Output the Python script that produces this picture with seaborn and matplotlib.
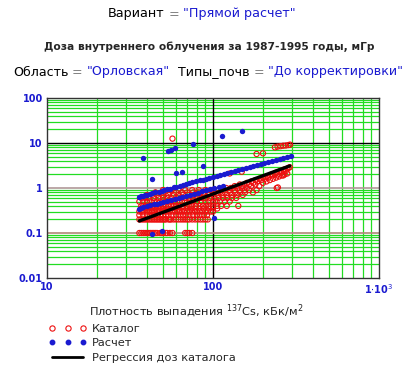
import numpy as np
import pandas as pd
import seaborn as sns
import matplotlib.pyplot as plt
from matplotlib.lines import Line2D
from matplotlib.ticker import LogLocator, NullFormatter, FixedLocator

# ---- data ----
# catalogue doses (rounded values form horizontal rows at low doses)
row_01 = [36, 37, 38, 39, 40, 41, 42, 43, 44, 45, 46, 48, 49, 50, 52, 53, 55, 57, 68, 70, 72, 75]
row_02 = [36, 37, 38, 39, 40, 41, 42, 43, 44, 45, 46, 47, 48, 49, 50, 51, 52, 54, 55, 56, 58,
          60, 62, 64, 66, 68, 70, 72, 75, 78, 81, 84, 87, 90, 93]
row_025 = [36, 38, 40, 42, 44, 46, 48, 50, 52, 54, 57, 60, 63, 66, 69, 72, 76, 80, 84, 88, 92]
row_03 = [36, 37, 38, 40, 41, 42, 43, 44, 46, 47, 48, 50, 51, 53, 55, 57, 59, 61, 63, 65, 67,
          70, 72, 75, 78, 80, 83, 86, 90, 93, 97, 100]
row_035 = [37, 39, 41, 43, 45, 47, 50, 53, 56, 59, 62, 66, 70, 74, 78, 83, 88, 94, 100, 106]
row_04 = [37, 38, 40, 42, 44, 46, 48, 50, 52, 54, 56, 58, 60, 63, 66, 69, 72, 75, 79, 83, 87,
          91, 95, 100, 106, 112, 121, 142]
row_05 = [36, 38, 40, 42, 44, 46, 48, 50, 53, 56, 59, 62, 65, 68, 72, 76, 80, 85, 90, 95, 100,
          105, 110, 118, 126]
row_06 = [37, 39, 41, 44, 47, 50, 53, 56, 60, 64, 68, 72, 76, 80, 85, 90, 96, 102, 108, 115,
          122, 130, 138]
row_07 = [40, 43, 46, 50, 54, 58, 62, 66, 71, 76, 82, 88, 94, 100, 107, 114, 121, 130, 140, 151]
row_08 = [45, 50, 55, 60, 65, 70, 76, 82, 88, 95, 102, 110, 118, 127, 136, 146, 156, 174]
row_09 = [50, 56, 62, 68, 75, 82, 90, 98, 106, 115, 125, 135, 145, 155, 165, 183]
cat_hi_x = [120, 128, 135, 140, 145, 150, 155, 160, 165, 170, 175, 180, 185, 190, 195, 200, 205,
            210, 215, 220, 225, 230, 235, 240, 245, 250, 255, 260, 265, 270, 275, 280, 285, 290,
            150, 160, 170, 180, 190, 200, 210, 220, 230, 240, 250, 260, 270, 280, 242, 246,
            126, 149, 265, 183, 200, 236, 245, 255, 265, 275, 285, 291, 57]
cat_hi_y = [1.0, 1.0, 1.1, 1.0, 1.2, 1.1, 1.2, 1.3, 1.2, 1.4, 1.3, 1.5, 1.4, 1.6, 1.5, 1.7, 1.6,
            1.8, 1.7, 1.9, 2.0, 1.9, 2.1, 2.2, 2.0, 2.3, 2.4, 2.2, 2.5, 2.6, 2.4, 2.7, 2.8, 2.9,
            1.0, 1.0, 1.1, 1.2, 1.1, 1.3, 1.4, 1.5, 1.6, 1.7, 1.8, 1.9, 2.0, 2.1, 1.0, 1.03,
            2.1, 2.3, 1.9, 5.7, 5.9, 8.0, 8.3, 8.5, 8.7, 8.8, 9.0, 9.2, 12.5]

# calculated doses: two dense bands plus a few outliers
calc_up_x = [36, 37, 38, 39, 40, 42, 43, 45, 47, 49, 51, 53, 55, 58, 60, 63, 66, 69, 72, 75, 79,
             83, 87, 91, 95, 100, 105, 110, 116, 122, 128, 135, 142, 150, 158, 166, 175, 184,
             194, 204, 215, 227, 239, 252, 265, 280, 294]
calc_up_y = [0.64, 0.66, 0.67, 0.69, 0.71, 0.74, 0.76, 0.80, 0.83, 0.87, 0.90, 0.94, 0.97, 1.03,
             1.06, 1.12, 1.17, 1.22, 1.27, 1.33, 1.40, 1.47, 1.54, 1.61, 1.68, 1.77, 1.86, 1.95,
             2.05, 2.16, 2.27, 2.39, 2.51, 2.66, 2.80, 2.94, 3.10, 3.26, 3.43, 3.61, 3.81, 4.02,
             4.23, 4.46, 4.69, 4.96, 5.2]
calc_lo_x = [36, 37, 38, 40, 42, 44, 46, 48, 50, 53, 56, 59, 62, 65, 69, 73, 77, 81, 86, 91, 96,
             102, 108, 115]
calc_lo_y = [0.35, 0.36, 0.37, 0.39, 0.41, 0.43, 0.45, 0.47, 0.49, 0.52, 0.55, 0.58, 0.61, 0.64,
             0.67, 0.71, 0.75, 0.79, 0.84, 0.89, 0.93, 0.99, 1.05, 1.12]
calc_out_x = [37.7, 42.8, 53.8, 55.5, 59, 60, 65, 75.8, 86.7, 113, 150, 100.7, 42.8, 49.5]
calc_out_y = [4.7, 1.56, 6.6, 6.9, 7.6, 2.19, 2.3, 9.5, 3.08, 14.3, 18.2, 0.22, 0.096, 0.11]

# regression of catalogue doses
reg_x = [36, 290]
reg_y = [0.185, 3.1]

x_ticks = [10, 100, 1000]
x_labels = ['10', '100', r'1$\cdot$10$^{3}$']
y_ticks = [0.01, 0.1, 1, 10, 100]
y_labels = ['0.01', '0.1', '1', '10', '100']

# ---- frames ----
rows = [(row_01, 0.1), (row_02, 0.2), (row_025, 0.25), (row_03, 0.3), (row_035, 0.35),
        (row_04, 0.4), (row_05, 0.5), (row_06, 0.6), (row_07, 0.7), (row_08, 0.8), (row_09, 0.9)]
cat = pd.concat([pd.DataFrame({'x': xs, 'y': v}) for xs, v in rows] +
                [pd.DataFrame({'x': cat_hi_x, 'y': cat_hi_y})], ignore_index=True)
calc = pd.DataFrame({'x': calc_up_x + calc_lo_x + calc_out_x,
                     'y': calc_up_y + calc_lo_y + calc_out_y})
reg = pd.DataFrame({'x': reg_x, 'y': reg_y})

sns.set_style('white')
plt.rcParams['font.family'] = ['DejaVu Sans']
plt.rcParams['mathtext.fontset'] = 'dejavusans'

BLUE = '#1a1ad0'
RED = '#ee1010'
GREEN = '#22dd22'

fig = plt.figure(figsize=(4.17, 3.74), dpi=100)
ax = fig.add_axes([47 / 417, 96 / 374, 332 / 417, 180 / 374])

sns.scatterplot(data=cat, x='x', y='y', ax=ax, marker='o', s=14, facecolors='none',
                edgecolor=RED, linewidth=0.8, zorder=3)
sns.scatterplot(data=calc, x='x', y='y', ax=ax, marker='o', s=15, color=BLUE,
                edgecolor=BLUE, linewidth=0, zorder=4)
sns.lineplot(data=reg, x='x', y='y', ax=ax, color='black', lw=2.4, zorder=5)

ax.set_xscale('log')
ax.set_yscale('log')
ax.set_xlim(10, 1000)
ax.set_ylim(0.01, 100)

# green minor grid, darker major lines
ax.xaxis.set_minor_locator(LogLocator(base=10, subs=np.arange(2, 10)))
ax.yaxis.set_minor_locator(LogLocator(base=10, subs=np.arange(2, 10)))
ax.xaxis.set_minor_formatter(NullFormatter())
ax.yaxis.set_minor_formatter(NullFormatter())
ax.grid(True, which='minor', color=GREEN, lw=0.9, zorder=0)
ax.set_axisbelow(True)
ax.axvline(100, color='black', lw=1.0, zorder=1)
ax.axhline(10, color='black', lw=1.0, zorder=1)
ax.axhline(1, color='#b09898', lw=1.2, zorder=1)
ax.axhline(0.1, color='#b08878', lw=1.2, zorder=1)

ax.xaxis.set_major_locator(FixedLocator(x_ticks))
ax.yaxis.set_major_locator(FixedLocator(y_ticks))
ax.set_xticklabels(x_labels)
ax.set_yticklabels(y_labels)
ax.tick_params(which='both', length=0, labelsize=7.0, labelcolor=BLUE, pad=3)
for lab in ax.get_xticklabels() + ax.get_yticklabels():
    lab.set_fontweight('bold')
ax.set_xlabel('')
ax.set_ylabel('')
for s in ax.spines.values():
    s.set_color('#333333')
    s.set_linewidth(1.0)

fig.text(0.471, 1 - 311 / 374, r'Плотность выпадения $^{137}$Cs, кБк/м$^{2}$',
         ha='center', va='center', fontsize=8.2, color='#202020')


def colored_line(x0, y, parts, size, weight='normal'):
    # place text pieces one after another, starting at pixel x0
    r = fig.canvas.get_renderer()
    x = x0 / 417
    for s, c in parts:
        t = fig.text(x, y, s, color=c, fontsize=size, weight=weight, ha='left', va='center')
        x += t.get_window_extent(r).width / 417


colored_line(108, 1 - 14 / 374, [('Вариант', 'black'), (' = ', '#808080'),
                                 ('"Прямой расчет"', BLUE)], 9.2)
fig.text(209 / 417, 1 - 47 / 374, 'Доза внутреннего облучения за 1987-1995 годы, мГр',
         ha='center', va='center', fontsize=7.7, weight='bold')
colored_line(13, 1 - 72 / 374, [('Область', 'black'), (' = ', '#808080'),
                                ('"Орловская"', BLUE), ('  Типы_почв', 'black'),
                                (' = ', '#808080'), ('"До корректировки"', BLUE)], 9.1)

handles = [
    Line2D([], [], ls='none', marker='o', mfc='none', mec=RED, ms=3.8, mew=0.8),
    Line2D([], [], ls='none', marker='o', mfc=BLUE, mec=BLUE, ms=3.2),
    Line2D([], [], color='black', lw=2.0),
]
fig.legend(handles, ['Каталог', 'Расчет', 'Регрессия доз каталога'],
           loc='upper left', bbox_to_anchor=(49 / 417, 1 - 324 / 374), frameon=False,
           numpoints=3, handlelength=3.3, handletextpad=0.5, labelspacing=0.38,
           fontsize=8.2, borderaxespad=0, borderpad=0)

fig.savefig('out.png', dpi=100)
